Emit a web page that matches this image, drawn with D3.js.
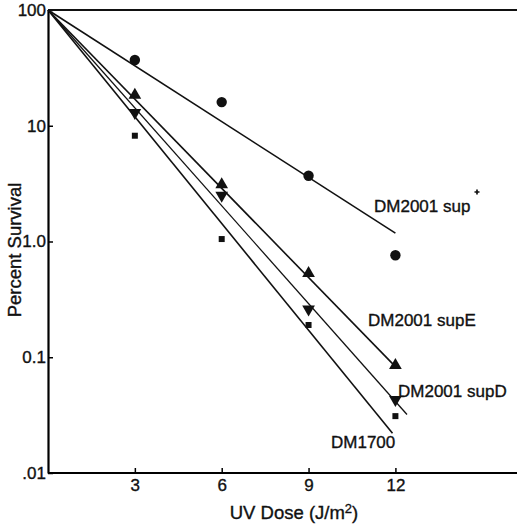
<!DOCTYPE html>
<meta charset="utf-8">
<script src="https://d3js.org/d3.v7.min.js"></script>
<style>
  body { margin: 0; background: #fff; }
  text { font-family: "Liberation Sans", Arial, sans-serif; fill: #111; stroke: #111; stroke-width: 0.35px; }
</style>
<div id="chart"></div>
<script>

    // doses where survival was measured
    var doses = [3, 6, 9, 12];

    // percent survival per strain
    var supValues   = [37, 16, 3.7, 0.76];
    var supEValues  = [18.4, 3.1, 0.53, 0.085];
    var supDValues  = [13, 2.5, 0.26, 0.043];
    var dm1700Values = [8.2, 1.05, 0.19, 0.031];

    // fitted lines: start and end point [dose, percent]
    var supLine    = [[0, 100], [12, 1.18]];
    var supELine   = [[0, 100], [12, 0.083]];
    var supDLine   = [[0, 100], [12.4, 0.032]];
    var dm1700Line = [[0, 100], [11.9, 0.022]];

    var xTicks = [3, 6, 9, 12];
    var yTicks = [100, 10, 1, 0.1, 0.01];
    var yTickLabels = ["100", "10", "1.0", "0.1", ".01"];

    var width = 517, height = 526;

    var x = d3.scaleLinear().domain([0, 16.2]).range([48, 517]);
    var y = d3.scaleLog().domain([0.01, 100]).range([473, 10]);

    var svg = d3.select("#chart")
        .append("svg")
        .attr("width", width)
        .attr("height", height);

    // x axis with ticks pointing up
    var xAxis = svg.append("g")
        .attr("transform", "translate(0," + y(0.01) + ")")
        .call(d3.axisBottom(x).tickValues(xTicks).tickSizeInner(-5).tickSizeOuter(0).tickPadding(6));
    xAxis.select(".domain").attr("stroke-width", 2.2).attr("d", "M48,0H517");
    xAxis.selectAll(".tick line").attr("stroke-width", 1.5);
    xAxis.selectAll("text").style("font-size", "17px").attr("dy", "0.71em");

    // y axis with ticks pointing right
    var yAxis = svg.append("g")
        .attr("transform", "translate(" + x(0) + ",0)")
        .call(d3.axisLeft(y).tickValues(yTicks).tickSizeInner(-5).tickSizeOuter(0).tickPadding(3)
            .tickFormat(function(d, i) { return yTickLabels[i]; }));
    yAxis.select(".domain").attr("stroke-width", 2.2);
    yAxis.selectAll(".tick line").attr("stroke-width", 1.5);
    yAxis.selectAll("text").style("font-size", "17px").attr("x", -2);

    // top frame line
    svg.append("line")
        .attr("x1", x(0)).attr("x2", 517)
        .attr("y1", y(100)).attr("y2", y(100))
        .attr("stroke", "#111").attr("stroke-width", 2.2);

    // fitted lines
    var line = d3.line()
        .x(function(d) { return x(d[0]); })
        .y(function(d) { return y(d[1]); });

    [supLine, supELine, supDLine, dm1700Line].forEach(function(l, i) {
        svg.append("path")
            .attr("d", line(l))
            .attr("fill", "none")
            .attr("stroke", "#111")
            .attr("stroke-width", i == 2 ? 1.3 : 1.6);
    });

    // markers
    function addPoints(values, symbol, size, rotate) {
        svg.selectAll(null)
            .data(values)
            .enter()
            .append("path")
            .attr("d", d3.symbol().type(symbol).size(size))
            .attr("transform", function(d, i) {
                return "translate(" + x(doses[i]) + "," + y(d) + ")" + (rotate ? " rotate(180)" : "");
            })
            .attr("fill", "#111");
    }
    addPoints(supValues, d3.symbolCircle, 85, false);
    addPoints(supEValues, d3.symbolTriangle, 70, false);
    addPoints(supDValues, d3.symbolTriangle, 70, true);
    addPoints(dm1700Values, d3.symbolSquare, 36, false);

    // series labels
    svg.append("text").attr("x", 374).attr("y", 212).text("DM2001 sup").style("font-size", "17px");
    svg.append("path")
        .attr("d", d3.symbol().type(d3.symbolCross).size(14))
        .attr("transform", "translate(477,192)")
        .attr("fill", "#111");
    svg.append("text").attr("x", 368).attr("y", 326).text("DM2001 supE").style("font-size", "17px");
    svg.append("text").attr("x", 398).attr("y", 397).text("DM2001 supD").style("font-size", "17px");
    svg.append("text").attr("x", 331).attr("y", 448).text("DM1700").style("font-size", "17px");

    // axis titles
    var xTitle = svg.append("text")
        .attr("x", 294).attr("y", 519)
        .attr("text-anchor", "middle")
        .style("font-size", "18.5px")
        .text("UV Dose (J/m");
    xTitle.append("tspan").attr("dy", -6).style("font-size", "13px").text("2");
    xTitle.append("tspan").attr("dy", 6).text(")");

    svg.append("text")
        .attr("transform", "translate(21,250) rotate(-90)")
        .attr("text-anchor", "middle")
        .style("font-size", "18.5px")
        .text("Percent Survival");

</script>
